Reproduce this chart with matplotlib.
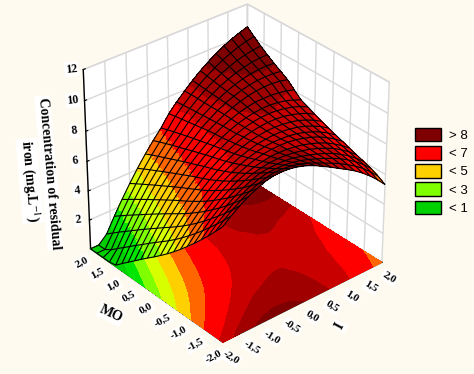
import matplotlib
matplotlib.use("Agg")
import matplotlib.pyplot as plt
import matplotlib.tri as mtri
from matplotlib.colors import BoundaryNorm, ListedColormap
from matplotlib.patches import Patch
import numpy as np

# axis values
i_vals = [-2.0, -1.8, -1.6, -1.4, -1.2, -1.0, -0.8, -0.6, -0.4, -0.2, 0.0,
          0.2, 0.4, 0.6, 0.8, 1.0, 1.2, 1.4, 1.6, 1.8, 2.0]
mo_vals = list(i_vals)

# residual iron, one row per MO value
conc = [
    [7.58, 8.02, 8.41, 8.74, 9.00, 9.22, 9.33, 9.35, 9.30, 9.18, 9.00, 8.76, 8.47, 8.17, 7.85, 7.54, 7.21, 6.82, 6.38, 5.88, 5.32],
    [6.98, 7.45, 7.87, 8.23, 8.53, 8.77, 8.93, 9.03, 9.01, 8.95, 8.82, 8.64, 8.41, 8.16, 7.91, 7.64, 7.33, 6.99, 6.60, 6.13, 5.61],
    [6.40, 6.90, 7.35, 7.75, 8.08, 8.36, 8.57, 8.70, 8.72, 8.71, 8.64, 8.52, 8.35, 8.15, 7.94, 7.70, 7.44, 7.12, 6.75, 6.34, 5.84],
    [5.84, 6.38, 6.86, 7.28, 7.65, 7.96, 8.21, 8.40, 8.46, 8.49, 8.47, 8.40, 8.27, 8.13, 7.94, 7.74, 7.50, 7.20, 6.87, 6.46, 6.01],
    [5.30, 5.87, 6.39, 6.84, 7.24, 7.58, 7.87, 8.09, 8.21, 8.29, 8.32, 8.29, 8.22, 8.11, 7.97, 7.79, 7.56, 7.31, 6.98, 6.61, 6.17],
    [4.79, 5.39, 5.94, 6.43, 6.86, 7.23, 7.55, 7.80, 7.97, 8.09, 8.17, 8.18, 8.16, 8.09, 7.98, 7.82, 7.63, 7.39, 7.09, 6.74, 6.34],
    [4.29, 4.93, 5.51, 6.03, 6.49, 6.90, 7.25, 7.54, 7.77, 7.94, 8.06, 8.12, 8.14, 8.11, 8.04, 7.90, 7.73, 7.51, 7.23, 6.90, 6.51],
    [3.82, 4.49, 5.10, 5.66, 6.15, 6.59, 6.97, 7.29, 7.56, 7.76, 7.91, 8.01, 8.06, 8.05, 8.01, 7.92, 7.77, 7.58, 7.33, 7.03, 6.67],
    [3.37, 4.07, 4.72, 5.31, 5.83, 6.30, 6.72, 7.07, 7.37, 7.60, 7.78, 7.92, 7.99, 8.03, 8.02, 7.95, 7.84, 7.67, 7.45, 7.18, 6.85],
    [2.95, 3.68, 4.36, 4.98, 5.54, 6.04, 6.48, 6.87, 7.20, 7.47, 7.68, 7.85, 7.95, 8.02, 8.03, 7.99, 7.91, 7.78, 7.58, 7.33, 7.03],
    [2.54, 3.31, 4.02, 4.67, 5.26, 5.80, 6.27, 6.69, 7.05, 7.36, 7.60, 7.80, 7.94, 8.03, 8.07, 8.07, 8.01, 7.89, 7.73, 7.52, 7.23],
    [2.15, 2.95, 3.69, 4.37, 5.00, 5.56, 6.07, 6.53, 6.92, 7.25, 7.53, 7.75, 7.93, 8.06, 8.13, 8.15, 8.12, 8.03, 7.90, 7.71, 7.46],
    [1.75, 2.58, 3.35, 4.07, 4.73, 5.33, 5.87, 6.35, 6.78, 7.14, 7.45, 7.71, 7.92, 8.07, 8.17, 8.22, 8.22, 8.16, 8.05, 7.88, 7.66],
    [1.34, 2.20, 3.01, 3.76, 4.45, 5.08, 5.65, 6.17, 6.63, 7.03, 7.42, 7.71, 7.95, 8.14, 8.28, 8.37, 8.39, 8.38, 8.32, 8.22, 8.07],
    [0.93, 1.83, 2.67, 3.45, 4.17, 4.83, 5.44, 5.99, 6.48, 6.91, 7.35, 7.67, 7.97, 8.20, 8.39, 8.54, 8.63, 8.67, 8.67, 8.61, 8.49],
    [0.52, 1.44, 2.32, 3.13, 3.88, 4.58, 5.22, 5.80, 6.32, 6.79, 7.27, 7.63, 7.97, 8.24, 8.46, 8.63, 8.76, 8.84, 8.86, 8.85, 8.78],
    [0.10, 1.06, 1.97, 2.81, 3.60, 4.33, 5.00, 5.61, 6.17, 6.67, 7.19, 7.60, 7.95, 8.27, 8.53, 8.74, 8.90, 9.02, 9.08, 9.10, 9.07],
    [0.00, 0.68, 1.61, 2.49, 3.31, 4.07, 4.77, 5.42, 6.01, 6.54, 7.11, 7.55, 7.95, 8.30, 8.60, 8.85, 9.04, 9.20, 9.31, 9.37, 9.38],
    [0.00, 0.29, 1.26, 2.17, 3.02, 3.81, 4.55, 5.23, 5.85, 6.41, 7.03, 7.52, 7.96, 8.34, 8.68, 8.97, 9.21, 9.40, 9.55, 9.65, 9.72],
    [0.00, 0.00, 0.89, 1.84, 2.72, 3.55, 4.32, 5.03, 5.68, 6.27, 6.95, 7.47, 7.95, 8.38, 8.76, 9.09, 9.38, 9.62, 9.83, 9.98, 10.10],
    [0.00, 0.00, 0.52, 1.50, 2.42, 3.28, 4.08, 4.82, 5.50, 6.13, 6.86, 7.43, 7.94, 8.42, 8.85, 9.23, 9.57, 9.86, 10.11, 10.32, 10.50],
]

levels = [-1, 1, 2, 3, 4, 5, 6, 7.3, 8.15, 9, 13]
band_colors = ["#00d000", "#00e600", "#7fff00", "#d8ff00", "#ffd000",
               "#ff6600", "#ff0000", "#c80000", "#a00000", "#7f0000"]
legend_labels = ["> 8", "< 7", "< 5", "< 3", "< 1"]
legend_colors = ["#7f0000", "#ff0000", "#ffd000", "#7fff00", "#00d000"]

i_ticks = [-2.0, -1.5, -1.0, -0.5, 0.0, 0.5, 1.0, 1.5, 2.0]
tick_labels = ["-2,0", "-1,5", "-1,0", "-0,5", "0,0", "0,5", "1,0", "1,5", "2,0"]
z_ticks = [2, 4, 6, 8, 10, 12]

bg = "#fffaf0"
cmap = ListedColormap(band_colors)
norm = BoundaryNorm(levels, cmap.N)
serif = "Liberation Serif"
plt.rcParams["mathtext.fontset"] = "stix"
label_box = dict(facecolor="white", edgecolor="none", pad=1)

X, Y = np.meshgrid(i_vals, mo_vals)
Z = np.array(conc)

fig = plt.figure(figsize=(4.74, 3.74), dpi=100, facecolor=bg)
ax = fig.add_axes([-0.015, -0.024, 1.0, 1.12], projection="3d", computed_zorder=False, facecolor=bg)
ax.view_init(elev=32, azim=229.7)
ax.set_box_aspect((1, 1, 1.0), zoom=0.85)
ax.set_xlim(-2, 2)
ax.set_ylim(-2, 2)
ax.set_zlim(0, 12)

# floor map
ax.contourf(X, Y, Z, levels=levels, cmap=cmap, norm=norm, zdir="z", offset=0, zorder=1)

# surface, split finer so the colour bands do not follow the mesh cells
tri = mtri.Triangulation(X.ravel(), Y.ravel())
fine_tri, fine_z = mtri.UniformTriRefiner(tri).refine_field(Z.ravel(), subdiv=2)
ax.plot_trisurf(fine_tri, fine_z, cmap=cmap, norm=norm, linewidth=0, shade=False, antialiased=False, zorder=2)
ax.plot_wireframe(X, Y, Z, rstride=1, cstride=1, color="black", linewidth=0.8, zorder=3)

for axis in (ax.xaxis, ax.yaxis, ax.zaxis):
    axis.set_pane_color((1, 1, 1, 1))
    axis.pane.set_edgecolor("#d8d8d8")
    axis._axinfo["grid"].update(color="#d8d8d8", linewidth=1.0)
    axis._axinfo["tick"].update(inward_factor=0.0, outward_factor=0.15)
    axis.line.set_linewidth(1.0)

ax.set_xticks(i_ticks)
ax.set_yticks(i_ticks)
ax.set_zticks(z_ticks)
ax.set_xticklabels(tick_labels, rotation=-32, family=serif, weight="bold", fontsize=8, ha="center", va="center", bbox=label_box)
ax.set_yticklabels(tick_labels, rotation=28, family=serif, weight="bold", fontsize=8, ha="center", va="center", bbox=label_box)
ax.set_zticklabels(z_ticks, rotation=6, family=serif, weight="bold", fontsize=8.5, ha="center", va="center", bbox=label_box)
ax.tick_params(axis="x", pad=1)
ax.tick_params(axis="y", pad=1)
ax.tick_params(axis="z", pad=-2)

fig.text(0.103, 0.537, "Concentration of residual", rotation=-85, family=serif, weight="bold",
         fontsize=10, ha="center", va="center", bbox=label_box)
fig.text(0.063, 0.516, "iron (mg.L$^{-1}$)", rotation=-85, family=serif, weight="bold",
         fontsize=10, ha="center", va="center", bbox=label_box)
fig.text(0.234, 0.16, "MO", rotation=-25, family=serif, weight="bold", fontsize=10, ha="center", va="center", bbox=label_box)
fig.text(0.717, 0.128, "I", rotation=62, family=serif, weight="bold", fontsize=10, ha="center", va="center", bbox=label_box)

handles = [Patch(facecolor=c, edgecolor="black", linewidth=1) for c in legend_colors]
fig.legend(handles, legend_labels, loc="upper left", bbox_to_anchor=(0.875, 0.658), frameon=False,
           prop={"family": "Liberation Sans", "size": 9.5}, handlelength=2.0, handleheight=1.2,
           labelspacing=0.3, handletextpad=0.6, borderpad=0, borderaxespad=0)

fig.savefig("out.png", dpi=100, facecolor=bg)
